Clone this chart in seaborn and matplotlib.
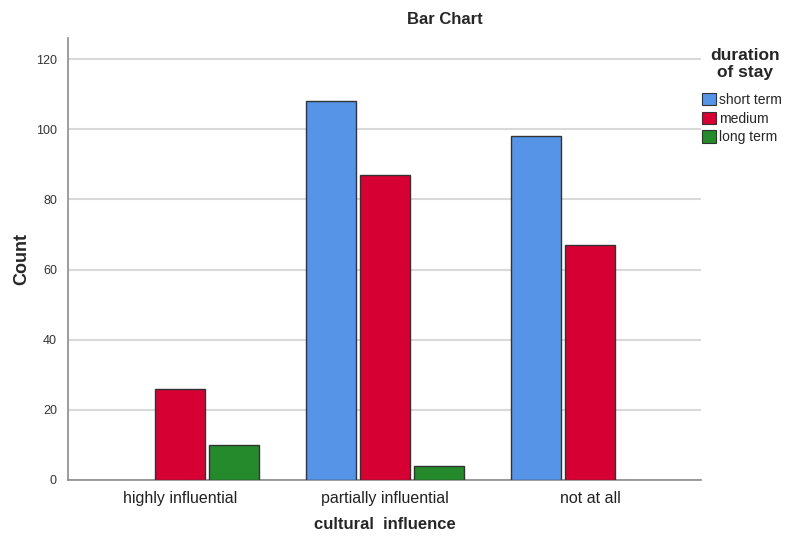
import matplotlib
matplotlib.use("Agg")
import matplotlib.pyplot as plt
import seaborn as sns
import pandas as pd
from matplotlib.patches import Patch

categories = ["highly influential", "partially influential", "not at all"]
hue_levels = ["short term", "medium", "long term"]
short_term = [0, 108, 98]
medium = [26, 87, 67]
long_term = [10, 4, 0]
colors = ["#5594e6", "#d70033", "#248a2b"]

rows = []
for name, vals in zip(hue_levels, [short_term, medium, long_term]):
    for c, v in zip(categories, vals):
        if v > 0:
            rows.append({"cultural influence": c, "duration": name, "Count": v})
df = pd.DataFrame(rows)

sns.set_theme(style="white")
plt.rcParams['font.family'] = ['Liberation Sans', 'DejaVu Sans']

fig = plt.figure(figsize=(7.88, 5.41), dpi=100)
ax = fig.add_axes([68/788, 61/541, (701-68)/788, (480-38)/541])

sns.barplot(data=df, x="cultural influence", y="Count", hue="duration",
            order=categories, hue_order=hue_levels, palette=colors,
            width=0.79, gap=0.08, edgecolor="#333333", linewidth=1.0,
            saturation=1, legend=False, ax=ax, zorder=3)

ax.set_xlim(-0.546, 2.541)
ax.set_ylim(0, 126)
ax.set_yticks(range(0, 121, 20))
ax.yaxis.grid(True, color="#d9d9d9", linewidth=1.5, zorder=0)
ax.set_axisbelow(True)
for s in ["top", "right"]:
    ax.spines[s].set_visible(False)
for s in ["left", "bottom"]:
    ax.spines[s].set_color("#8c8c8c")
    ax.spines[s].set_linewidth(1.2)
ax.tick_params(axis="y", length=0, labelsize=9, labelcolor="#333333", pad=8)
ax.tick_params(axis="x", length=0, labelsize=11.5, labelcolor="#222222", pad=8)
ax.set_xlabel("cultural  influence", fontsize=12, fontweight="bold", labelpad=8)
ax.set_ylabel("Count", fontsize=13, fontweight="bold", labelpad=4)

fig.text(445/788, 1 - 20/541, "Bar Chart", ha="center", va="center",
         fontsize=12, fontweight="bold")

fig.text(745/788, 1 - 64/541, "duration\nof stay", ha="center", va="center",
         fontsize=12.5, fontweight="bold", linespacing=1.1)

handles = [Patch(facecolor=c, edgecolor="#333333", linewidth=0.8, label=l)
           for c, l in zip(colors, hue_levels)]
leg = fig.legend(handles=handles, loc="upper left",
                 bbox_to_anchor=(702/788, 1 - 93/541), frameon=False,
                 fontsize=10, handlelength=1.0, handleheight=1.0,
                 handletextpad=0.2, labelspacing=0.33,
                 borderaxespad=0, borderpad=0)

fig.savefig("out.png", dpi=100)
